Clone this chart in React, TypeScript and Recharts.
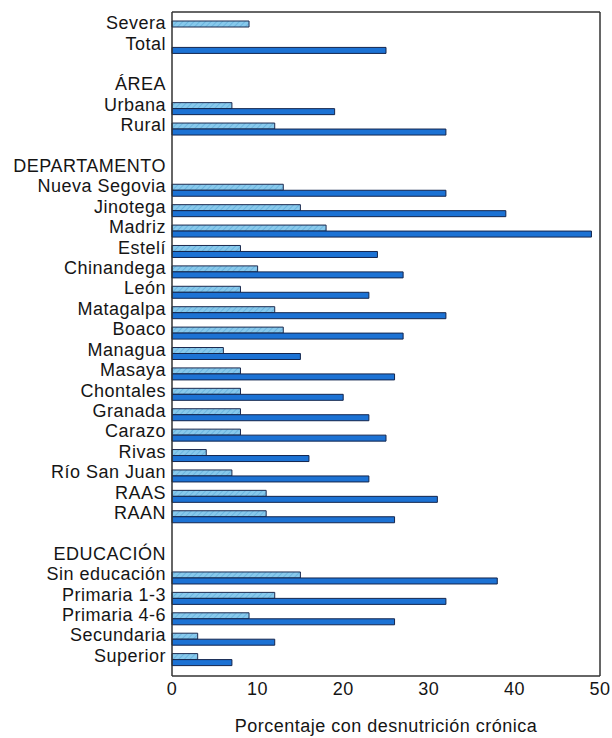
import React from "react";
import { BarChart, Bar, XAxis, YAxis } from "recharts";

// categories top to bottom; blanks and section headers carry no bars
const categories = [
  "Severa", "Total", "", "ÁREA", "Urbana", "Rural", "",
  "DEPARTAMENTO", "Nueva Segovia", "Jinotega", "Madriz", "Estelí",
  "Chinandega", "León", "Matagalpa", "Boaco", "Managua", "Masaya",
  "Chontales", "Granada", "Carazo", "Rivas", "Río San Juan", "RAAS",
  "RAAN", "", "EDUCACIÓN", "Sin educación", "Primaria 1-3",
  "Primaria 4-6", "Secundaria", "Superior",
];

const severaValues = [
  9, null, null, null, 7, 12, null,
  null, 13, 15, 18, 8,
  10, 8, 12, 13, 6, 8,
  8, 8, 8, 4, 7, 11,
  11, null, null, 15, 12,
  9, 3, 3,
];

const totalValues = [
  null, 25, null, null, 19, 32, null,
  null, 32, 39, 49, 24,
  27, 23, 32, 27, 15, 26,
  20, 23, 25, 16, 23, 31,
  26, null, null, 38, 32,
  26, 12, 7,
];

const xTicks = [0, 10, 20, 30, 40, 50];

const data = categories.map((name, i) => ({
  name,
  severa: severaValues[i],
  total: totalValues[i],
}));

const FONT = "'Liberation Sans', Arial, Helvetica, sans-serif";
const INK = "#151515";
const FRAME = "#333";

function CategoryTick(props: any) {
  const { x, y, payload } = props;
  return (
    <text
      x={x}
      y={y + 2}
      textAnchor="end"
      fontFamily={FONT}
      fontSize={18}
      letterSpacing={0.5}
      fill={INK}
    >
      {payload.value}
    </text>
  );
}

export default function App() {
  return (
    <div style={{ position: "absolute", left: 0, top: 0, background: "#fff" }}>
      <BarChart
        width={612}
        height={738}
        data={data}
        layout="vertical"
        margin={{ top: 11, right: 11, bottom: 0, left: 0 }}
        barSize={6}
        barGap={0}
      >
        <defs>
          <pattern
            id="hatch"
            patternUnits="userSpaceOnUse"
            width={4}
            height={4}
            patternTransform="rotate(45)"
          >
            <rect width={4} height={4} fill="#88c9ec" />
            <line x1={0} y1={0} x2={0} y2={4} stroke="#62aedb" strokeWidth={1.5} />
          </pattern>
        </defs>
        <XAxis
          type="number"
          domain={[0, 50]}
          ticks={xTicks}
          tickLine={false}
          tickSize={0}
          tickMargin={6}
          height={62}
          axisLine={{ stroke: FRAME, strokeWidth: 1.5 }}
          tick={{ fontSize: 18, fill: INK, fontFamily: FONT, letterSpacing: 0.5 }}
          label={{
            value: "Porcentaje con desnutrición crónica",
            position: "insideBottom",
            offset: 6,
            fontSize: 18,
            fill: INK,
            fontFamily: FONT,
            letterSpacing: 0.5,
          }}
        />
        <XAxis
          xAxisId="top"
          orientation="top"
          type="number"
          domain={[0, 50]}
          height={1}
          tick={false}
          tickLine={false}
          axisLine={{ stroke: FRAME, strokeWidth: 1.5 }}
        />
        <YAxis
          type="category"
          dataKey="name"
          width={172}
          tickLine={false}
          tickSize={0}
          tickMargin={6}
          interval={0}
          padding={{ top: 5, bottom: 6 }}
          axisLine={{ stroke: FRAME, strokeWidth: 1.5 }}
          tick={<CategoryTick />}
        />
        <YAxis
          yAxisId="right"
          orientation="right"
          type="category"
          dataKey="name"
          width={1}
          tick={false}
          tickLine={false}
          axisLine={{ stroke: FRAME, strokeWidth: 1.5 }}
        />
        <Bar
          dataKey="severa"
          fill="url(#hatch)"
          stroke="#1c2a4f"
          strokeWidth={1}
          isAnimationActive={false}
        />
        <Bar
          dataKey="total"
          fill="#1c72d4"
          stroke="#13254d"
          strokeWidth={1}
          isAnimationActive={false}
        />
      </BarChart>
    </div>
  );
}
